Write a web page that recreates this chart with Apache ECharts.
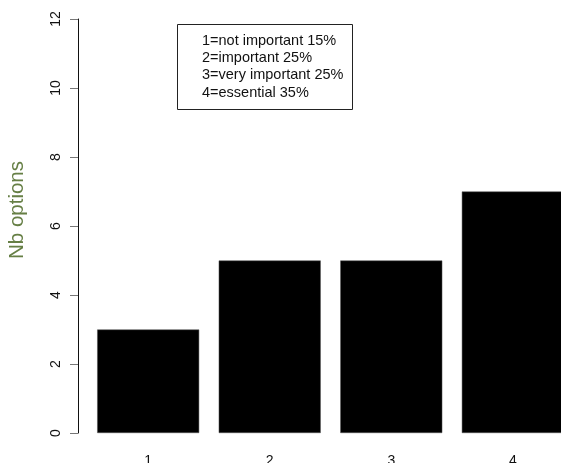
<!DOCTYPE html>
<html>
<head>
<meta charset="utf-8">
<script src="https://cdn.jsdelivr.net/npm/echarts@6/dist/echarts.min.js"></script>
<style>html,body{margin:0;padding:0;background:#fff;}#c{width:561px;height:463px;}</style>
</head>
<body>
<div id="c"></div>
<script>
const categories = ['1', '2', '3', '4'];
const counts = [3, 5, 5, 7];
const yTicks = [0, 2, 4, 6, 8, 10, 12];
const legendLines = ['1=not important 15%', '2=important 25%', '3=very important 25%', '4=essential 35%'];
const yTitle = 'Nb options';

const chart = echarts.init(document.getElementById('c'), null, {renderer: 'canvas'});
const font = 'Liberation Sans, Arial, sans-serif';
chart.setOption({
  animation: false,
  backgroundColor: '#fff',
  grid: {left: 87.4, top: 19, right: -12.6, height: 414, containLabel: false, outerBoundsMode: 'none'},
  xAxis: {
    type: 'category',
    data: categories,
    axisLine: {show: false},
    axisTick: {show: false},
    axisLabel: {color: '#111', fontFamily: font, fontSize: 14, margin: 21}
  },
  yAxis: {
    type: 'value',
    min: yTicks[0],
    max: yTicks[yTicks.length - 1],
    interval: 2,
    offset: 9.4,
    splitLine: {show: false},
    axisLine: {show: true, lineStyle: {color: '#111', width: 1}},
    axisTick: {show: true, length: 8, lineStyle: {color: '#777'}},
    axisLabel: {rotate: 90, color: '#111', fontFamily: font, fontSize: 14, margin: 15}
  },
  series: [{
    type: 'bar',
    data: counts,
    barWidth: 102,
    itemStyle: {color: '#000', borderColor: '#555', borderWidth: 0.5}
  }],
  graphic: [
    {
      type: 'rect',
      shape: {x: 177.5, y: 24.5, width: 175, height: 85},
      style: {fill: '#fff', stroke: '#222', lineWidth: 1}
    },
    {
      type: 'text',
      x: 202, y: 32,
      style: {
        text: legendLines.join('\n'),
        font: '14.5px ' + font,
        lineHeight: 17.3,
        fill: '#111'
      }
    },
    {
      type: 'text',
      x: 17, y: 210,
      rotation: Math.PI / 2,
      style: {
        text: yTitle,
        font: '20.5px ' + font,
        fill: '#667f45',
        textAlign: 'center',
        textVerticalAlign: 'middle'
      }
    }
  ]
});
</script>
</body>
</html>
